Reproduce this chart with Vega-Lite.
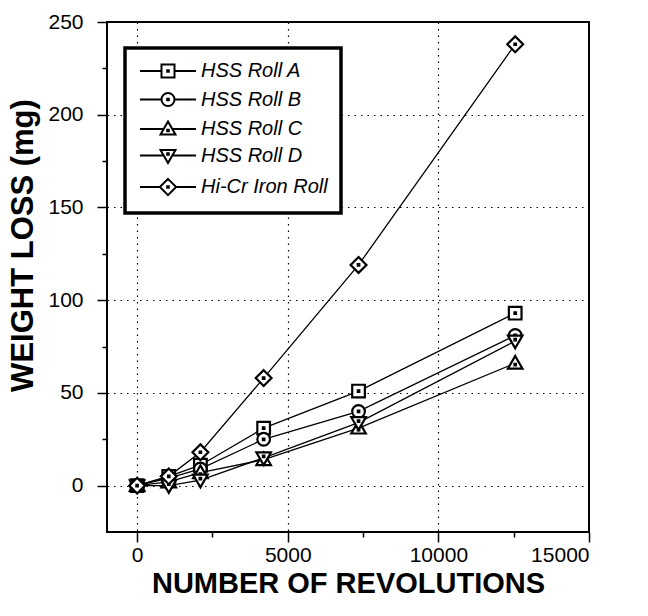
{
  "$schema": "https://vega.github.io/schema/vega-lite/v6.json",
  "autosize": "none",
  "width": 482,
  "height": 510,
  "padding": {"left": 107, "top": 22, "right": 59, "bottom": 84},
  "background": "white",
  "config": {
    "view": {"stroke": "black", "strokeWidth": 2},
    "font": "Liberation Sans",
    "legend": {"strokeWidth": 3.5},
    "axis": {
      "domain": false,
      "labelFont": "Liberation Sans",
      "labelFontSize": 21,
      "labelColor": "black",
      "titleFont": "Liberation Sans",
      "titleFontSize": 29,
      "titleFontWeight": "bold",
      "titleColor": "black",
      "tickColor": "black",
      "tickWidth": 1.5,
      "gridColor": "black",
      "gridDash": [1.5, 5],
      "gridWidth": 1.2
    }
  },
  "datasets": {
    "wear": [
      {"rev": 0, "loss": 0, "roll": "HSS Roll A"},
      {"rev": 1050, "loss": 5, "roll": "HSS Roll A"},
      {"rev": 2100, "loss": 11, "roll": "HSS Roll A"},
      {"rev": 4200, "loss": 31, "roll": "HSS Roll A"},
      {"rev": 7350, "loss": 51, "roll": "HSS Roll A"},
      {"rev": 12550, "loss": 93, "roll": "HSS Roll A"},
      {"rev": 0, "loss": 0, "roll": "HSS Roll B"},
      {"rev": 1050, "loss": 4, "roll": "HSS Roll B"},
      {"rev": 2100, "loss": 9, "roll": "HSS Roll B"},
      {"rev": 4200, "loss": 25, "roll": "HSS Roll B"},
      {"rev": 7350, "loss": 40, "roll": "HSS Roll B"},
      {"rev": 12550, "loss": 81, "roll": "HSS Roll B"},
      {"rev": 0, "loss": 0, "roll": "HSS Roll C"},
      {"rev": 1050, "loss": 2, "roll": "HSS Roll C"},
      {"rev": 2100, "loss": 7, "roll": "HSS Roll C"},
      {"rev": 4200, "loss": 14, "roll": "HSS Roll C"},
      {"rev": 7350, "loss": 31, "roll": "HSS Roll C"},
      {"rev": 12550, "loss": 66, "roll": "HSS Roll C"},
      {"rev": 0, "loss": 0, "roll": "HSS Roll D"},
      {"rev": 1050, "loss": 0, "roll": "HSS Roll D"},
      {"rev": 2100, "loss": 3, "roll": "HSS Roll D"},
      {"rev": 4200, "loss": 15, "roll": "HSS Roll D"},
      {"rev": 7350, "loss": 34, "roll": "HSS Roll D"},
      {"rev": 12550, "loss": 78, "roll": "HSS Roll D"},
      {"rev": 0, "loss": 0, "roll": "Hi-Cr Iron Roll"},
      {"rev": 1050, "loss": 5, "roll": "Hi-Cr Iron Roll"},
      {"rev": 2100, "loss": 18, "roll": "Hi-Cr Iron Roll"},
      {"rev": 4200, "loss": 58, "roll": "Hi-Cr Iron Roll"},
      {"rev": 7350, "loss": 119, "roll": "Hi-Cr Iron Roll"},
      {"rev": 12550, "loss": 238, "roll": "Hi-Cr Iron Roll"}
    ]
  },
  "data": {"name": "wear"},
  "encoding": {
    "x": {
      "field": "rev",
      "type": "quantitative",
      "scale": {"domain": [-1000, 15000], "nice": false, "zero": false},
      "axis": {
        "title": "NUMBER OF REVOLUTIONS",
        "values": [0, 2500, 5000, 7500, 10000, 12500, 15000],
        "labelExpr": "datum.value % 5000 === 0 ? datum.value : ''",
        "format": "d",
        "tickSize": {"condition": {"test": "datum.value % 5000 !== 0", "value": 5}, "value": 10},
        "gridOpacity": {"condition": {"test": "datum.value % 5000 !== 0 || datum.value === 15000", "value": 0}, "value": 1},
        "labelPadding": 2,
        "titlePadding": 4
      }
    },
    "y": {
      "field": "loss",
      "type": "quantitative",
      "scale": {"domain": [-25, 250], "nice": false, "zero": false},
      "axis": {
        "title": "WEIGHT LOSS (mg)",
        "values": [0, 25, 50, 75, 100, 125, 150, 175, 200, 225, 250],
        "labelExpr": "datum.value % 50 === 0 ? datum.value : ''",
        "tickSize": {"condition": {"test": "datum.value % 50 !== 0", "value": 5}, "value": 10},
        "gridOpacity": {"condition": {"test": "datum.value % 50 !== 0 || datum.value === 250", "value": 0}, "value": 1},
        "labelPadding": 14,
        "titlePadding": 8,
        "titleFontSize": 31,
        "titleY": 223,
        "titleAlign": "center",
        "titleAngle": 270
      }
    }
  },
  "layer": [
    {
      "mark": {"type": "line", "color": "black", "strokeWidth": 1.3},
      "encoding": {"detail": {"field": "roll"}}
    },
    {
      "mark": {"type": "point", "filled": true, "fill": "white", "stroke": "black", "strokeWidth": 2.2, "size": 160, "opacity": 1},
      "encoding": {
        "shape": {
          "field": "roll",
          "type": "nominal",
          "scale": {
            "domain": ["HSS Roll A", "HSS Roll B", "HSS Roll C", "HSS Roll D", "Hi-Cr Iron Roll"],
            "range": [
              "M-1,-1H1V1H-1Z M-0.12,-0.12H0.12V0.12H-0.12Z",
              "M-1,0A1,1 0 1,0 1,0A1,1 0 1,0 -1,0Z M-0.12,-0.12H0.12V0.12H-0.12Z",
              "M0,-1.15L1.15,0.85H-1.15Z M-0.12,0.1H0.12V0.34H-0.12Z",
              "M0,1.15L1.15,-0.85H-1.15Z M-0.12,-0.34H0.12V-0.1H-0.12Z",
              "M0,-1.25L1.25,0L0,1.25L-1.25,0Z M-0.12,-0.12H0.12V0.12H-0.12Z"
            ]
          },
          "legend": null
        }
      }
    },
    {
      "mark": {"type": "point", "filled": false, "color": "black", "strokeWidth": 2, "size": 0},
      "encoding": {
        "shape": {
          "field": "roll",
          "type": "nominal",
          "scale": {
            "domain": ["HSS Roll A", "HSS Roll B", "HSS Roll C", "HSS Roll D", "Hi-Cr Iron Roll"],
            "range": [
              "M-4.3,0H-1 M1,0H4.3 M-1,-1H1V1H-1Z M-0.12,-0.12H0.12V0.12H-0.12Z",
              "M-4.3,0H-1 M1,0H4.3 M-1,0A1,1 0 1,0 1,0A1,1 0 1,0 -1,0Z M-0.12,-0.12H0.12V0.12H-0.12Z",
              "M-4.3,0H-0.65 M0.65,0H4.3 M0,-1.15L1.15,0.85H-1.15Z M-0.12,0.1H0.12V0.34H-0.12Z",
              "M-4.3,0H-0.65 M0.65,0H4.3 M0,1.15L1.15,-0.85H-1.15Z M-0.12,-0.34H0.12V-0.1H-0.12Z",
              "M-4.3,0H-1.25 M1.25,0H4.3 M0,-1.25L1.25,0L0,1.25L-1.25,0Z M-0.12,-0.12H0.12V0.12H-0.12Z"
            ]
          },
          "legend": {
            "title": null,
            "orient": "none",
            "legendX": 18,
            "legendY": 26,
            "padding": 13,
            "strokeColor": "black",
            "fillColor": "white",
            "symbolSize": 169,
            "symbolStrokeWidth": 2,
            "symbolStrokeColor": "black",
            "symbolFillColor": "white",
            "symbolOffset": 20,
            "labelOffset": 23,
            "labelFont": "Liberation Sans",
            "labelFontSize": 20,
            "labelFontStyle": "italic",
            "labelColor": "black",
            "labelLimit": 300,
            "rowPadding": 6.5,
            "symbolOpacity": 1
          }
        }
      }
    }
  ],
  "resolve": {"scale": {"shape": "independent"}, "legend": {"shape": "independent"}}
}
